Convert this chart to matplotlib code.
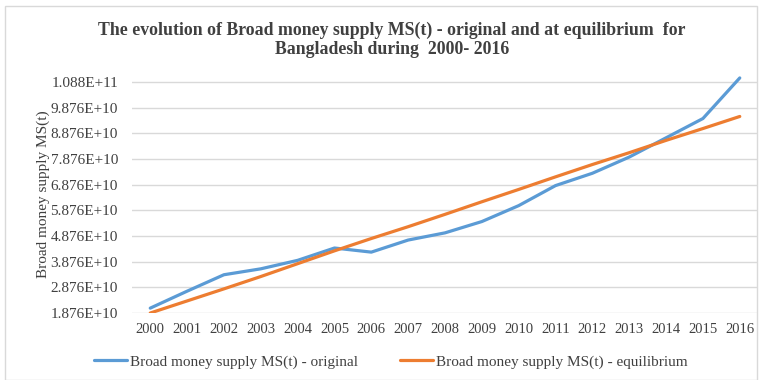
import matplotlib
matplotlib.use("Agg")
import matplotlib.pyplot as plt
from matplotlib.ticker import FixedLocator, FuncFormatter
from matplotlib.patches import Rectangle

years = [str(y) for y in range(2000, 2017)]
original = [2.07, 2.73, 3.37, 3.60, 3.93, 4.41, 4.25, 4.72, 5.00, 5.44,
            6.06, 6.84, 7.32, 7.95, 8.70, 9.45, 11.03]  # x 1e10
equilibrium = [1.88, 2.35, 2.82, 3.30, 3.80, 4.30, 4.78, 5.24, 5.72, 6.21,
               6.69, 7.18, 7.66, 8.12, 8.60, 9.06, 9.53]  # x 1e10
y_ticks = [1.876e10 + k * 1e10 for k in range(10)]

title = ("The evolution of Broad money supply MS(t) - original and at equilibrium  for\n"
         "Bangladesh during  2000- 2016")
ylabel = "Broad money supply MS(t)"
labels = ["Broad money supply MS(t) - original", "Broad money supply MS(t) - equilibrium"]

plt.rcParams['font.family'] = ['Liberation Serif', 'DejaVu Serif']

fig = plt.figure(figsize=(7.62, 3.80), dpi=100)
fig.patch.set_facecolor('white')
fig.patches.append(Rectangle((0.006, 0.0), 0.988, 0.985, transform=fig.transFigure,
                             fill=False, edgecolor='#d9d9d9', linewidth=1))

ax = fig.add_axes([0.173, 0.176, 0.822, 0.625])
x = list(range(len(years)))
ax.plot(x, [v * 1e10 for v in original], color='#5B9BD5', linewidth=2.3,
        label=labels[0], solid_capstyle='round')
ax.plot(x, [v * 1e10 for v in equilibrium], color='#ED7D31', linewidth=2.3,
        label=labels[1], solid_capstyle='round')

ax.set_xlim(-0.5, len(years) - 0.5)
ax.set_ylim(1.876e10, 1.112e11)
ax.set_xticks(x)
ax.set_xticklabels(years)
ax.yaxis.set_major_locator(FixedLocator(y_ticks))
ax.yaxis.set_major_formatter(FuncFormatter(lambda v, p: f"{v:.3E}"))
ax.grid(axis='y', color='#d9d9d9', linewidth=1)
ax.set_axisbelow(True)
for s in ax.spines.values():
    s.set_visible(False)
ax.tick_params(axis='both', length=0, colors='#404040')
ax.tick_params(axis='y', pad=10, labelsize=11)
ax.tick_params(axis='x', pad=7, labelsize=10.5)
ax.set_ylabel(ylabel, fontsize=11, color='#404040')
ax.yaxis.set_label_coords(-0.13, 0.5)

fig.text(0.514, 0.895, title, ha='center', va='center', fontsize=12.8,
         fontweight='bold', color='#404040', multialignment='center', linespacing=1.15)

fig.legend(loc='center', bbox_to_anchor=(0.513, 0.048), ncol=2, frameon=False,
           fontsize=11, handlelength=2.2, handletextpad=0.2, columnspacing=2.7,
           labelcolor='#404040')

fig.savefig("out.png", dpi=100, facecolor='white')
